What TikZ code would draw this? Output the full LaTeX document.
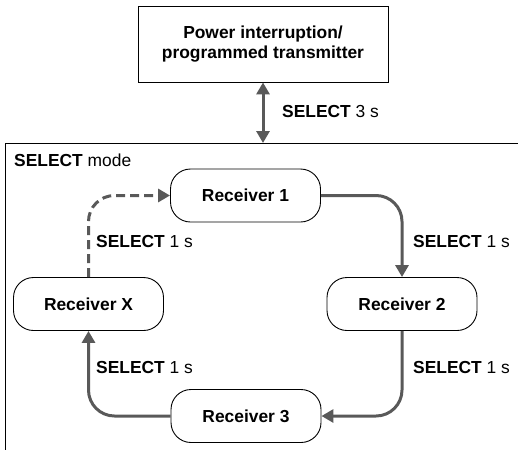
\documentclass[tikz,border=0pt]{standalone}
\usepackage{fontspec}
\setmainfont{Liberation Sans}
\usetikzlibrary{arrows.meta}
\begin{document}
\begin{tikzpicture}[x=1pt,y=-1pt,
  every node/.style={font=\fontsize{17.4}{20}\selectfont},
  box/.style={draw=black,line width=0.9pt,inner sep=0pt,align=center},
  recv/.style={box,rounded corners=20pt,minimum width=150pt,minimum height=53pt,font=\fontsize{17.4}{20}\selectfont\bfseries},
  arr/.style={draw=black!65,line width=3pt,-{Triangle[length=12pt,width=13pt]},rounded corners=26pt},
  lbl/.style={anchor=west,inner sep=0pt}]
\useasboundingbox (0,0) rectangle (518,450);
\node[box,minimum width=250pt,minimum height=76pt,font=\fontsize{17.4}{20}\selectfont\bfseries] (top) at (263,44) {Power interruption/\\programmed transmitter};
\coordinate (ft) at (263,143);
\draw[line width=0.9pt] (518,143) -- (5.5,143) -- (5.5,450);
\node[lbl] (mode) at (14,160) {\textbf{SELECT} mode};
\draw[draw=black!65,line width=3pt,{Triangle[length=12pt,width=13pt]}-{Triangle[length=12pt,width=13pt]}] (top.south) -- (ft);
\node[lbl] (l0) at (282,112) {\textbf{SELECT} 3 s};
\node[recv] (r1) at (245.5,195.5) {Receiver 1};
\node[recv] (rx) at (88.5,304) {Receiver X};
\node[recv] (r2) at (402,304) {Receiver 2};
\node[recv] (r3) at (246,416) {Receiver 3};
\draw[arr] (r1.east) -| (r2.north);
\draw[arr] (r2.south) |- (r3.east);
\draw[arr] (r3.west) -| (rx.south);
\draw[arr,dashed,dash pattern=on 9pt off 5pt] (rx.north) |- (r1.west);
\node[lbl] (l1) at (96,242) {\textbf{SELECT} 1 s};
\node[lbl] (l2) at (413,242) {\textbf{SELECT} 1 s};
\node[lbl] (l3) at (96,368) {\textbf{SELECT} 1 s};
\node[lbl] (l4) at (413,368) {\textbf{SELECT} 1 s};
\end{tikzpicture}
\end{document}
